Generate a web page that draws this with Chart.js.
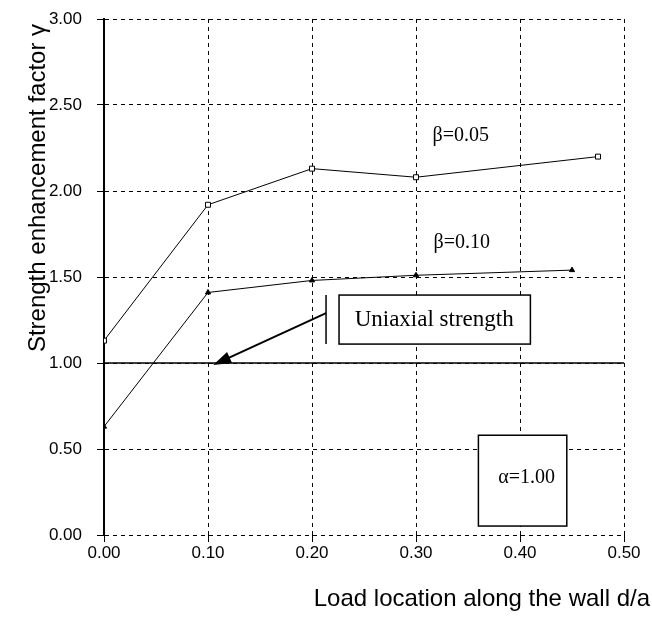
<!DOCTYPE html>
<html>
<head>
<meta charset="utf-8">
<script src="https://cdn.jsdelivr.net/npm/chart.js@4.4.1/dist/chart.umd.min.js"></script>
<style>
html, body { margin: 0; padding: 0; background: #fff; }
#wrap { width: 652px; height: 617px; }
</style>
</head>
<body>
<div id="wrap"><canvas id="chart" width="652" height="617"></canvas></div>
<script>
// values
var loadLocation005 = [0, 0.1, 0.2, 0.3, 0.475];
var gamma005 = [1.13, 1.92, 2.13, 2.08, 2.20];
var loadLocation010 = [0, 0.1, 0.2, 0.3, 0.45];
var gamma010 = [0.63, 1.41, 1.48, 1.51, 1.54];
var uniaxialX = [0, 0.5];
var uniaxialY = [1, 1];
var xTicks = [0, 0.1, 0.2, 0.3, 0.4, 0.5];
var yTicks = [0, 0.5, 1, 1.5, 2, 2.5, 3];

function toPoints(xs, ys) {
    return xs.map(function (x, i) { return { x: x, y: ys[i] }; });
}

var sans = "'Liberation Sans', Arial, sans-serif";
var serif = "'Liberation Serif', 'Times New Roman', serif";
var tickFont = { family: sans, size: 17 };

// titles, text boxes and the arrow
var annotations = {
    id: "annotations",
    afterDatasetsDraw: function (chart) {
        var ctx = chart.ctx;
        var xs = chart.scales.x, ys = chart.scales.y;
        var px = function (v) { return xs.getPixelForValue(v); };
        var py = function (v) { return ys.getPixelForValue(v); };
        ctx.save();
        ctx.fillStyle = "#000";
        ctx.strokeStyle = "#000";

        ctx.font = "20px " + serif;
        ctx.textAlign = "center";
        ctx.textBaseline = "middle";
        ctx.fillText("\u03b2=0.05", px(0.343), py(2.32));
        ctx.fillText("\u03b2=0.10", px(0.344), py(1.70));

        // uniaxial strength box
        ctx.lineWidth = 1.5;
        var bx1 = px(0.226), bx2 = px(0.41), by1 = py(1.395), by2 = py(1.11);
        ctx.fillStyle = "#fff";
        ctx.fillRect(bx1, by1, bx2 - bx1, by2 - by1);
        ctx.strokeRect(bx1, by1, bx2 - bx1, by2 - by1);
        ctx.fillStyle = "#000";
        ctx.font = "23px " + serif;
        ctx.textAlign = "left";
        ctx.fillText("Uniaxial strength", px(0.241), py(1.253));

        // bar and arrow
        ctx.beginPath();
        ctx.moveTo(px(0.2135), by1);
        ctx.lineTo(px(0.2135), by2);
        ctx.stroke();
        var ax1 = px(0.2135), ay1 = py(1.29), ax2 = px(0.105), ay2 = py(0.988);
        var ang = Math.atan2(ay2 - ay1, ax2 - ax1);
        ctx.lineWidth = 2;
        ctx.beginPath();
        ctx.moveTo(ax1, ay1);
        ctx.lineTo(ax2 - 14 * Math.cos(ang), ay2 - 14 * Math.sin(ang));
        ctx.stroke();
        ctx.beginPath();
        ctx.moveTo(ax2, ay2);
        ctx.lineTo(ax2 - 18 * Math.cos(ang) + 6 * Math.sin(ang), ay2 - 18 * Math.sin(ang) - 6 * Math.cos(ang));
        ctx.lineTo(ax2 - 18 * Math.cos(ang) - 6 * Math.sin(ang), ay2 - 18 * Math.sin(ang) + 6 * Math.cos(ang));
        ctx.closePath();
        ctx.fill();

        // alpha box
        ctx.lineWidth = 1.5;
        var cx1 = px(0.36), cx2 = px(0.445), cy1 = py(0.58), cy2 = py(0.052);
        ctx.fillStyle = "#fff";
        ctx.fillRect(cx1, cy1, cx2 - cx1, cy2 - cy1);
        ctx.strokeRect(cx1, cy1, cx2 - cx1, cy2 - cy1);
        ctx.fillStyle = "#000";
        ctx.font = "20px " + serif;
        ctx.fillText("\u03b1=1.00", px(0.379), py(0.33));

        // axis titles
        ctx.font = "24px " + sans;
        ctx.textAlign = "right";
        ctx.fillText("Load location along the wall d/a", 650, 599);
        ctx.save();
        ctx.translate(38, 188);
        ctx.rotate(-Math.PI / 2);
        ctx.textAlign = "center";
        ctx.fillText("Strength enhancement factor \u03b3", 0, 0);
        ctx.restore();
        ctx.restore();
    }
};

var ctx = document.getElementById("chart").getContext("2d");
new Chart(ctx, {
    type: "scatter",
    data: {
        datasets: [{
            label: "uniaxial",
            data: toPoints(uniaxialX, uniaxialY),
            showLine: true,
            borderColor: "#000",
            borderWidth: 1.5,
            pointRadius: 0
        }, {
            label: "beta 0.05",
            data: toPoints(loadLocation005, gamma005),
            showLine: true,
            borderColor: "#000",
            backgroundColor: "#fff",
            borderWidth: 1,
            pointStyle: "rect",
            pointRadius: 3.5,
            pointBorderWidth: 1
        }, {
            label: "beta 0.10",
            data: toPoints(loadLocation010, gamma010),
            showLine: true,
            borderColor: "#000",
            backgroundColor: "#000",
            borderWidth: 1,
            pointStyle: "triangle",
            pointRadius: 3,
            pointBorderWidth: 1
        }]
    },
    options: {
        responsive: false,
        animation: false,
        layout: { padding: { left: 0, top: 19, right: 28, bottom: 0 } },
        plugins: { legend: { display: false }, tooltip: { enabled: false } },
        scales: {
            x: {
                type: "linear",
                min: 0,
                max: 0.5,
                afterBuildTicks: function (axis) { axis.ticks = xTicks.map(function (v) { return { value: v }; }); },
                afterFit: function (axis) {
                    axis.height = 82;
                    axis.paddingLeft = 0;
                    axis.paddingRight = 0;
                },
                ticks: {
                    color: "#000",
                    font: tickFont,
                    padding: 1,
                    maxRotation: 0,
                    callback: function (v) { return v.toFixed(2); }
                },
                grid: { color: "#000", lineWidth: 1, tickLength: 7, tickColor: "#000" },
                border: { display: false, dash: [4, 4] }
            },
            y: {
                min: 0,
                max: 3,
                afterBuildTicks: function (axis) { axis.ticks = yTicks.map(function (v) { return { value: v }; }); },
                afterFit: function (axis) {
                    axis.width = 104;
                    axis.paddingTop = 0;
                    axis.paddingBottom = 0;
                },
                ticks: {
                    color: "#000",
                    font: tickFont,
                    padding: 15,
                    callback: function (v) { return v.toFixed(2); }
                },
                grid: { color: "#000", lineWidth: 1, tickLength: 7, tickColor: "#000" },
                border: { display: true, color: "#000", width: 2, dash: [4, 4] }
            }
        }
    },
    plugins: [annotations]
});
</script>
</body>
</html>
